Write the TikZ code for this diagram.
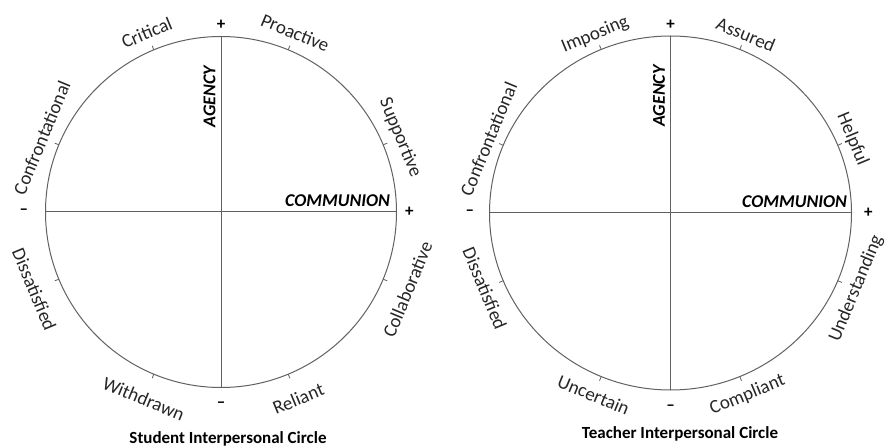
\documentclass[tikz,border=0pt]{standalone}
\usepackage{fontspec}
\setmainfont{Carlito}
\usetikzlibrary{positioning}

\begin{document}
\begin{tikzpicture}
[x=1pt,y=1pt,line width=1pt,
 rim/.style={draw=black!62},
 tickmark/.style={draw=black!62,line width=.8pt},
 lbl/.style={font=\fontsize{19}{22}\selectfont,text=black!85,inner sep=0pt},
 axisname/.style={font=\fontsize{18}{21}\selectfont\bfseries\itshape,inner sep=0pt},
 sign/.style={font=\fontsize{17}{20}\selectfont\bfseries,inner sep=0pt},
 caption/.style={font=\fontsize{17}{20}\selectfont\bfseries,inner sep=0pt}]

\useasboundingbox (0,0) rectangle (888,447);

% student circle
\coordinate (S) at (221,235);
\draw[rim] (S) circle (175.5pt);
\coordinate (Sn) at ([shift={(S)}]90:175.5);
\coordinate (Ss) at ([shift={(S)}]270:175.5);
\coordinate (Sw) at ([shift={(S)}]180:175.5);
\coordinate (Se) at ([shift={(S)}]0:175.5);
\draw[rim] (Sw) -- (Se); %communion
\draw[rim] (Sn) -- (Ss); %agency
\foreach \a in {22.5,67.5,...,337.5}
  \draw[tickmark] ([shift={(S)}]\a:175.5) -- ([shift={(S)}]\a:180);
\foreach \a/\txt [count=\i] in {157.5/Confrontational,112.5/Critical,67.5/Proactive,22.5/Supportive}
  \node[lbl,rotate=\a-90] (sTop\i) at ([shift={(S)}]\a:194) {\txt};
\foreach \a/\txt [count=\i] in {202.5/Dissatisfied,247.5/Withdrawn,292.5/Reliant,337.5/Collaborative}
  \node[lbl,rotate=\a+90] (sBot\i) at ([shift={(S)}]\a:202) {\txt};
\path (Sn) ++(-5,-60) node[axisname,rotate=90,anchor=south] (sAgency) {AGENCY};
\node[axisname,above left=5pt and 6pt of Se] (sCommunion) {COMMUNION};
\node[sign,above=6pt of Sn] (sPlusN) {+};
\node[sign,right=8pt of Se] (sPlusE) {+};
\node[sign,left=17pt of Sw] (sMinusW) {–};
\node[sign,below=14pt of Ss] (sMinusS) {–};
\node[caption] (sTitle) at (228,8) {Student Interpersonal Circle};

% teacher circle
\coordinate (T) at (670.5,234);
\draw[rim] (T) ellipse (181pt and 177pt);
\coordinate (Tn) at ([shift={(T)}]90:181 and 177);
\coordinate (Ts) at ([shift={(T)}]270:181 and 177);
\coordinate (Tw) at ([shift={(T)}]180:181 and 177);
\coordinate (Te) at ([shift={(T)}]0:181 and 177);
\draw[rim] (Tw) -- (Te); %communion
\draw[rim] (Tn) -- (Ts); %agency
\foreach \a in {22.5,67.5,...,337.5}
  \draw[tickmark] ([shift={(T)}]\a:181 and 177) -- ([shift={(T)}]\a:185.5 and 181.5);
\foreach \a/\txt [count=\i] in {157.5/Confrontational,112.5/Imposing,67.5/Assured,22.5/Helpful}
  \node[lbl,rotate=\a-90] (tTop\i) at ([shift={(T)}]\a:197 and 193) {\txt};
\foreach \a/\txt [count=\i] in {202.5/Dissatisfied,247.5/Uncertain,292.5/Compliant,337.5/Understanding}
  \node[lbl,rotate=\a+90] (tBot\i) at ([shift={(T)}]\a:201 and 197) {\txt};
\path (Tn) ++(-5,-60) node[axisname,rotate=90,anchor=south] (tAgency) {AGENCY};
\node[axisname,above left=5pt and 4pt of Te] (tCommunion) {COMMUNION};
\node[sign,above=6pt of Tn] (tPlusN) {+};
\node[sign,right=12pt of Te] (tPlusE) {+};
\node[sign,left=15pt of Tw] (tMinusW) {–};
\node[sign,below=14pt of Ts] (tMinusS) {–};
\node[caption] (tTitle) at (680,13) {Teacher Interpersonal Circle};

\end{tikzpicture}
\end{document}
